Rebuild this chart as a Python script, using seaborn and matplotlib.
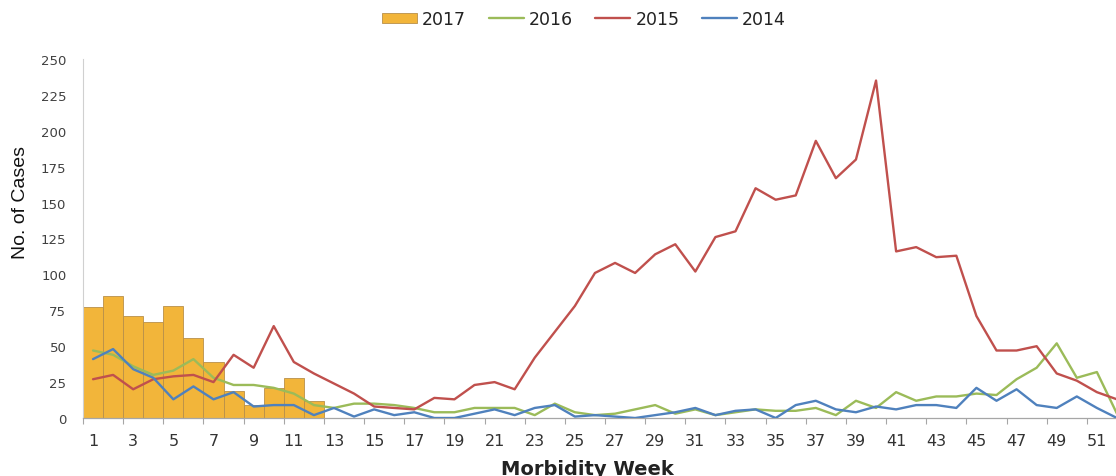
import numpy as np
import pandas as pd
import matplotlib
matplotlib.use("Agg")
import matplotlib.pyplot as plt
from matplotlib import font_manager
import seaborn as sns
from matplotlib.ticker import FixedLocator, NullFormatter

# ---------------- data ----------------
weeks = list(range(1, 53))
weeks_2017 = list(range(1, 13))
cases_2017 = [77, 85, 71, 67, 78, 56, 39, 19, 9, 21, 28, 12]
cases_2016 = [47, 44, 36, 30, 33, 41, 28, 23, 23, 21, 17, 9, 7, 10, 10, 9, 7, 4, 4, 7,
              7, 7, 2, 10, 4, 2, 3, 6, 9, 3, 6, 2, 4, 6, 5, 5, 7, 2, 12, 7,
              18, 12, 15, 15, 17, 16, 27, 35, 52, 28, 32, 3]
cases_2015 = [27, 30, 20, 27, 29, 30, 25, 44, 35, 64, 39, 31, 24, 17, 8, 7, 6, 14, 13, 23,
              25, 20, 42, 60, 78, 101, 108, 101, 114, 121, 102, 126, 130, 160, 152, 155, 193, 167, 180, 235,
              116, 119, 112, 113, 71, 47, 47, 50, 31, 26, 18, 13]
cases_2014 = [41, 48, 34, 28, 13, 22, 13, 18, 8, 9, 9, 2, 7, 1, 6, 2, 4, 0, 0, 3,
              6, 2, 7, 9, 1, 2, 1, 0, 2, 4, 7, 2, 5, 6, 0, 9, 12, 6, 4, 8,
              6, 9, 9, 7, 21, 12, 20, 9, 7, 15, 7, 0]
x_tick_labels = [str(w) for w in range(1, 53, 2)]
y_ticks = [0, 25, 50, 75, 100, 125, 150, 175, 200, 225, 250]

# ---------------- style ----------------
sns.set_style("white")
plt.rcParams['font.family'] = ['DejaVu Sans']

installed = {f.name for f in font_manager.fontManager.ttflist}
ylab_family = "Liberation Sans Narrow" if "Liberation Sans Narrow" in installed else "Liberation Sans"
ylab_size = 16 if ylab_family == "Liberation Sans Narrow" else 14

W, H = 1116, 477
fig = plt.figure(figsize=(W / 100, H / 100), dpi=100)
ax = fig.add_axes([83 / W, (H - 419) / H, 1044 / W, (419 - 60) / H])

bar_color = "#F2B53A"
c2016 = "#9BBB59"
c2015 = "#C0504D"
c2014 = "#4F81BD"

df17 = pd.DataFrame({"week": weeks_2017, "cases": cases_2017})
sns.barplot(data=df17, x="week", y="cases", native_scale=True, width=1.0,
            color=bar_color, saturation=1, edgecolor="#B8904A", linewidth=0.6,
            label="2017", ax=ax, zorder=1)

for vals, col, lab in [(cases_2016, c2016, "2016"), (cases_2015, c2015, "2015"),
                       (cases_2014, c2014, "2014")]:
    sns.lineplot(x=weeks, y=vals, color=col, linewidth=1.7, label=lab, ax=ax, zorder=3)

ax.set_xlim(0.5, 52.5)
ax.set_ylim(0, 250)

# ticks
ax.set_xticks(list(range(1, 53, 2)))
ax.set_xticklabels(x_tick_labels)
ax.xaxis.set_minor_locator(FixedLocator([w - 0.5 for w in range(1, 53, 2)]))
ax.xaxis.set_minor_formatter(NullFormatter())
ax.tick_params(axis="x", which="major", length=0, pad=11, labelsize=11.5, labelcolor="#333333")
ax.tick_params(axis="x", which="minor", length=4, width=0.8, color="#A6A6A6", bottom=True)
ax.set_yticks(y_ticks)
ax.set_yticklabels([str(v) for v in y_ticks])
ax.tick_params(axis="y", length=0, pad=12, labelsize=9.5, labelcolor="#404040")

for s in ["top", "right"]:
    ax.spines[s].set_visible(False)
ax.spines["left"].set_color("#D0D0D0")
ax.spines["left"].set_linewidth(0.8)
ax.spines["bottom"].set_color("#A6A6A6")
ax.spines["bottom"].set_linewidth(0.9)

ax.set_xlabel("")
ax.set_ylabel("")

fig.text(21 / W, 1 - 203 / H, "No. of Cases", rotation=90, ha="center", va="center",
         fontsize=ylab_size, family=[ylab_family, "DejaVu Sans"], color="#111111")
fig.text(587 / W, 1 - 460 / H, "Morbidity Week", ha="center", va="top",
         fontsize=14, fontweight="bold", color="#222222")

# legend
handles, labels = ax.get_legend_handles_labels()
order = ["2017", "2016", "2015", "2014"]
hmap = dict(zip(labels, handles))
leg_handles = [hmap[k] for k in order]
if ax.get_legend() is not None:
    ax.get_legend().remove()
fig.legend(leg_handles, order, loc="center", bbox_to_anchor=(584 / W, 1 - 20 / H),
           ncol=4, frameon=False, fontsize=12.5, handlelength=2.0, handleheight=0.5,
           handletextpad=0.3, columnspacing=1.3, labelcolor="#222222")

fig.savefig("out.png", dpi=100)
